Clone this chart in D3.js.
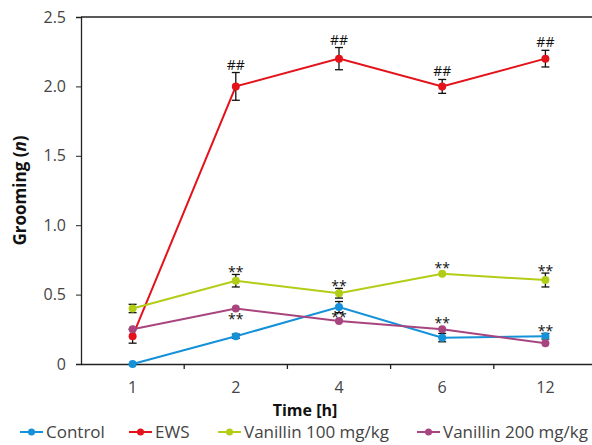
<!DOCTYPE html>
<html>
<head>
<meta charset="utf-8">
<script src="https://cdn.jsdelivr.net/npm/d3@7"></script>
<style>
  body { margin: 0; background: #fff; }
  svg text { font-family: "Open Sans", "Noto Sans", sans-serif; }
</style>
</head>
<body>
<div id="chart"></div>
<script>
// 数据
const times = ['1', '2', '4', '6', '12'];
const seriesNames = ['Control', 'EWS', 'Vanillin 100 mg/kg', 'Vanillin 200 mg/kg'];
const controlMean = [0.0, 0.2, 0.41, 0.19, 0.2];
const controlErr = [0.0, 0.015, 0.04, 0.03, 0.02];
const ewsMean = [0.2, 2.0, 2.2, 2.0, 2.2];
const ewsErr = [0.05, 0.1, 0.08, 0.05, 0.06];
const v100Mean = [0.4, 0.6, 0.51, 0.65, 0.605];
const v100Err = [0.03, 0.045, 0.035, 0.0, 0.05];
const v200Mean = [0.25, 0.4, 0.31, 0.25, 0.15];
const v200Err = [0.0, 0.0, 0.0, 0.0, 0.0];
const colors = ['#1491d8', '#e3121b', '#b3cc15', '#a8457f'];
const yTicks = [0, 0.5, 1.0, 1.5, 2.0, 2.5];
// 标注：[序列, 时间索引, 文本, 位置]
const marks = [
  [1, 1, '##', 'above'], [1, 2, '##', 'above'], [1, 3, '##', 'above'], [1, 4, '##', 'above'],
  [2, 1, '**', 'above'], [2, 2, '**', 'above'], [2, 3, '**', 'above'], [2, 4, '**', 'above'],
  [3, 1, '**', 'below'], [3, 2, '**', 'on'], [3, 3, '**', 'above'], [0, 4, '**', 'above']
];

const means = [controlMean, ewsMean, v100Mean, v200Mean];
const errs = [controlErr, ewsErr, v100Err, v200Err];

const width = 592, height = 445;
const margin = { top: 17, left: 81, bottom: 81, right: -5 };

const x = d3.scaleBand().domain(times)
  .range([margin.left, width - margin.right]);
const y = d3.scaleLinear().domain([0, 2.5])
  .range([height - margin.bottom, margin.top]);

const svg = d3.select('#chart').append('svg')
  .attr('width', width).attr('height', height);

const cx = t => x(t) + x.bandwidth() / 2;

// 坐标轴
svg.append('g')
  .attr('transform', `translate(${margin.left},0)`)
  .call(d3.axisLeft(y).tickValues(yTicks).tickSize(5).tickPadding(10)
    .tickFormat(d => d === 0 ? '0' : d3.format('.1f')(d)))
  .call(g => g.selectAll('line').attr('stroke', '#222'))
  .call(g => g.select('.domain').attr('stroke', '#222').attr('stroke-width', 1.3))
  .call(g => g.selectAll('text').attr('font-size', 16).attr('fill', '#444'));

svg.append('line')
  .attr('x1', margin.left).attr('x2', width)
  .attr('y1', y(2.5)).attr('y2', y(2.5))
  .attr('stroke', '#222').attr('stroke-width', 1.3);

svg.append('g')
  .attr('transform', `translate(0,${y(0)})`)
  .call(d3.axisBottom(x).tickSize(0).tickPadding(18))
  .call(g => g.select('.domain').attr('stroke', '#222').attr('stroke-width', 1.3))
  .call(g => g.selectAll('text').attr('font-size', 16).attr('fill', '#444'));

// 类别分隔刻度
svg.append('g').selectAll('line')
  .data(times.slice(1))
  .join('line')
  .attr('x1', d => x(d)).attr('x2', d => x(d))
  .attr('y1', y(0)).attr('y2', y(0) + 5)
  .attr('stroke', '#222').attr('stroke-width', 1.3);

// 轴标题
svg.append('text')
  .attr('x', 305).attr('y', 416)
  .attr('text-anchor', 'middle')
  .attr('font-size', 16).attr('font-weight', 'bold').attr('fill', '#111')
  .text('Time [h]');

const yt = svg.append('text')
  .attr('transform', `translate(26,${(y(0) + y(2.5)) / 2}) rotate(-90)`)
  .attr('text-anchor', 'middle')
  .attr('font-size', 17).attr('font-weight', 'bold').attr('fill', '#111');
yt.append('tspan').text('Grooming (');
yt.append('tspan').attr('font-style', 'italic').text('n');
yt.append('tspan').text(')');

// 线生成器
const line = d3.line()
  .x((d, i) => cx(times[i]))
  .y(d => y(d));

means.forEach((m, s) => {
  const g = svg.append('g');
  g.append('path')
    .datum(m)
    .attr('fill', 'none')
    .attr('stroke', colors[s])
    .attr('stroke-width', 2)
    .attr('d', line);
  // 误差线
  const eb = g.selectAll('g.err')
    .data(m.map((v, i) => ({ v, e: errs[s][i], t: times[i] })).filter(d => d.e > 0))
    .join('g').attr('class', 'err');
  eb.append('line')
    .attr('x1', d => cx(d.t)).attr('x2', d => cx(d.t))
    .attr('y1', d => y(d.v - d.e)).attr('y2', d => y(d.v + d.e))
    .attr('stroke', '#111').attr('stroke-width', 1.3);
  [-1, 1].forEach(k => {
    eb.append('line')
      .attr('x1', d => cx(d.t) - 4).attr('x2', d => cx(d.t) + 4)
      .attr('y1', d => y(d.v + k * d.e)).attr('y2', d => y(d.v + k * d.e))
      .attr('stroke', '#111').attr('stroke-width', 1.3);
  });
  g.selectAll('circle')
    .data(m)
    .join('circle')
    .attr('cx', (d, i) => cx(times[i]))
    .attr('cy', d => y(d))
    .attr('r', 4)
    .attr('fill', colors[s]);
});

// 显著性标注
svg.append('g').selectAll('text')
  .data(marks)
  .join('text')
  .attr('x', d => cx(times[d[1]]))
  .attr('y', d => {
    const v = means[d[0]][d[1]], e = errs[d[0]][d[1]];
    if (d[3] === 'below') return y(v) + 16;
    if (d[3] === 'on') return y(v) + 1;
    if (d[2] === '**') return e > 0 ? y(v + e) + 3 : y(v) - 1;
    return y(v + e) - 3;
  })
  .attr('text-anchor', 'middle')
  .attr('font-family', '"Liberation Serif", serif')
  .attr('font-size', 14)
  .attr('fill', '#111')
  .text(d => d[2]);

// 图例
const legendX = [20, 129, 218, 417];
const lg = svg.append('g').selectAll('g')
  .data(seriesNames)
  .join('g')
  .attr('transform', (d, i) => `translate(${legendX[i]},432)`);
lg.append('line')
  .attr('x1', 0).attr('x2', 23)
  .attr('stroke', (d, i) => colors[i]).attr('stroke-width', 2);
lg.append('circle')
  .attr('cx', 11.5).attr('r', 3.5)
  .attr('fill', (d, i) => colors[i]);
lg.append('text')
  .attr('x', 26).attr('dy', '0.35em')
  .attr('font-size', 17).attr('fill', '#444')
  .text(d => d);
</script>
</body>
</html>
